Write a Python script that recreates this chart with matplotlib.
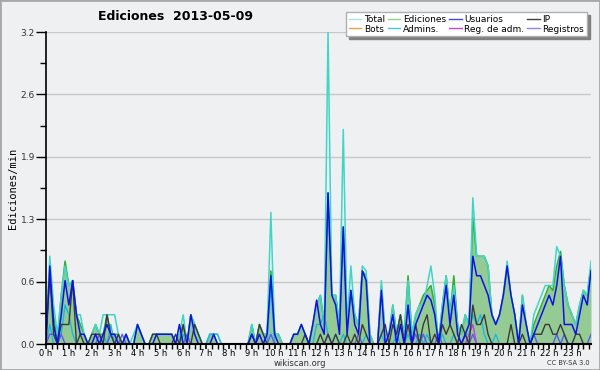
import numpy as np
import matplotlib.pyplot as plt
from matplotlib.lines import Line2D

# edits per minute, 10-minute buckets, 6 per hour
ediciones = [
    0.1, 0.8, 0.3, 0.0, 0.5, 0.85,
    0.6, 0.65, 0.3, 0.2, 0.1, 0.0,
    0.1, 0.2, 0.1, 0.1, 0.3, 0.1,
    0.1, 0.1, 0.0, 0.1, 0.0, 0.0,
    0.2, 0.1, 0.0, 0.0, 0.1, 0.1,
    0.1, 0.1, 0.1, 0.1, 0.0, 0.1,
    0.2, 0.0, 0.3, 0.2, 0.1, 0.0,
    0.0, 0.1, 0.1, 0.0, 0.0, 0.0,
    0.0, 0.0, 0.0, 0.0, 0.0, 0.0,
    0.2, 0.0, 0.2, 0.1, 0.1, 0.75,
    0.1, 0.1, 0.0, 0.0, 0.0, 0.1,
    0.1, 0.2, 0.1, 0.0, 0.2, 0.4,
    0.5, 0.2, 1.55, 0.5, 0.5, 0.2,
    1.2, 0.2, 0.55, 0.3, 0.2, 0.75,
    0.7, 0.1, 0.0, 0.0, 0.6, 0.1,
    0.1, 0.4, 0.1, 0.3, 0.1, 0.7,
    0.1, 0.3, 0.4, 0.5, 0.55, 0.6,
    0.4, 0.0, 0.4, 0.7, 0.3, 0.7,
    0.2, 0.1, 0.3, 0.2, 1.3, 0.9,
    0.9, 0.9, 0.8, 0.3, 0.2, 0.3,
    0.5, 0.8, 0.5, 0.3, 0.0, 0.5,
    0.2, 0.0, 0.2, 0.3, 0.4, 0.5,
    0.6, 0.55, 0.8, 0.95, 0.6, 0.4,
    0.3, 0.2, 0.4, 0.55, 0.5, 0.8,
]

total = [
    0.1, 0.9, 0.4, 0.1, 0.5, 0.8,
    0.6, 0.65, 0.3, 0.3, 0.1, 0.0,
    0.1, 0.2, 0.1, 0.3, 0.3, 0.3,
    0.3, 0.1, 0.0, 0.1, 0.0, 0.1,
    0.2, 0.1, 0.0, 0.0, 0.1, 0.1,
    0.1, 0.1, 0.1, 0.1, 0.0, 0.1,
    0.3, 0.0, 0.3, 0.2, 0.1, 0.0,
    0.0, 0.1, 0.1, 0.1, 0.0, 0.0,
    0.0, 0.0, 0.0, 0.0, 0.0, 0.0,
    0.2, 0.0, 0.2, 0.1, 0.1, 1.35,
    0.1, 0.1, 0.0, 0.0, 0.0, 0.1,
    0.1, 0.2, 0.1, 0.0, 0.2, 0.4,
    0.5, 0.2, 3.2, 0.5, 0.5, 0.2,
    2.2, 0.2, 0.8, 0.3, 0.2, 0.8,
    0.75, 0.1, 0.0, 0.0, 0.65, 0.1,
    0.1, 0.4, 0.1, 0.3, 0.1, 0.65,
    0.1, 0.3, 0.4, 0.4, 0.6, 0.8,
    0.5, 0.0, 0.4, 0.7, 0.3, 0.6,
    0.2, 0.1, 0.3, 0.2, 1.5, 0.9,
    0.9, 0.9, 0.8, 0.3, 0.2, 0.3,
    0.5, 0.85, 0.5, 0.3, 0.0, 0.5,
    0.2, 0.0, 0.3, 0.4, 0.5, 0.6,
    0.6, 0.6, 1.0, 0.9, 0.6, 0.4,
    0.3, 0.2, 0.4, 0.55, 0.5, 0.85,
]

usuarios = [
    0.0, 0.8, 0.2, 0.0, 0.3, 0.65,
    0.4, 0.65, 0.3, 0.1, 0.1, 0.0,
    0.0, 0.1, 0.0, 0.1, 0.2, 0.1,
    0.1, 0.0, 0.0, 0.1, 0.0, 0.0,
    0.2, 0.1, 0.0, 0.0, 0.0, 0.1,
    0.1, 0.1, 0.1, 0.1, 0.0, 0.2,
    0.0, 0.0, 0.3, 0.1, 0.0, 0.0,
    0.0, 0.0, 0.1, 0.0, 0.0, 0.0,
    0.0, 0.0, 0.0, 0.0, 0.0, 0.0,
    0.1, 0.0, 0.1, 0.0, 0.1, 0.7,
    0.1, 0.0, 0.0, 0.0, 0.0, 0.1,
    0.1, 0.2, 0.1, 0.0, 0.2, 0.45,
    0.2, 0.1, 1.55, 0.5, 0.4, 0.1,
    1.2, 0.1, 0.55, 0.2, 0.1, 0.75,
    0.65, 0.0, 0.0, 0.0, 0.55, 0.0,
    0.1, 0.3, 0.0, 0.2, 0.0, 0.4,
    0.0, 0.2, 0.3, 0.4, 0.5, 0.45,
    0.3, 0.0, 0.3, 0.6, 0.2, 0.5,
    0.1, 0.0, 0.1, 0.2, 0.9, 0.7,
    0.7, 0.6, 0.5, 0.3, 0.2, 0.3,
    0.5, 0.8, 0.5, 0.3, 0.0, 0.4,
    0.2, 0.0, 0.1, 0.2, 0.3, 0.4,
    0.5, 0.4, 0.6, 0.9, 0.2, 0.2,
    0.2, 0.1, 0.3, 0.5, 0.4, 0.75,
]

ip = [
    0.1, 0.7, 0.1, 0.0, 0.2, 0.2,
    0.2, 0.65, 0.0, 0.1, 0.0, 0.0,
    0.1, 0.1, 0.1, 0.0, 0.3, 0.1,
    0.0, 0.1, 0.0, 0.0, 0.0, 0.0,
    0.0, 0.0, 0.0, 0.0, 0.1, 0.1,
    0.0, 0.0, 0.0, 0.0, 0.1, 0.0,
    0.2, 0.0, 0.0, 0.2, 0.1, 0.0,
    0.0, 0.0, 0.0, 0.0, 0.0, 0.0,
    0.0, 0.0, 0.0, 0.0, 0.0, 0.0,
    0.1, 0.0, 0.2, 0.1, 0.0, 0.0,
    0.0, 0.0, 0.0, 0.0, 0.0, 0.0,
    0.0, 0.0, 0.1, 0.0, 0.0, 0.0,
    0.1, 0.0, 0.1, 0.0, 0.1, 0.0,
    0.0, 0.1, 0.0, 0.1, 0.0, 0.2,
    0.1, 0.0, 0.0, 0.0, 0.1, 0.2,
    0.0, 0.2, 0.1, 0.3, 0.0, 0.2,
    0.0, 0.2, 0.0, 0.2, 0.3, 0.0,
    0.1, 0.0, 0.2, 0.1, 0.2, 0.1,
    0.0, 0.2, 0.1, 0.0, 0.4, 0.2,
    0.2, 0.3, 0.1, 0.0, 0.0, 0.0,
    0.0, 0.0, 0.2, 0.0, 0.0, 0.1,
    0.0, 0.0, 0.1, 0.1, 0.1, 0.2,
    0.2, 0.1, 0.1, 0.2, 0.1, 0.0,
    0.0, 0.1, 0.1, 0.0, 0.0, 0.0,
]

admins = [
    0.0, 0.2, 0.0, 0.0, 0.1, 0.4,
    0.3, 0.1, 0.0, 0.0, 0.0, 0.0,
    0.0, 0.0, 0.0, 0.1, 0.0, 0.2,
    0.0, 0.0, 0.0, 0.0, 0.0, 0.0,
    0.0, 0.0, 0.0, 0.0, 0.0, 0.0,
    0.0, 0.0, 0.0, 0.0, 0.0, 0.0,
    0.1, 0.0, 0.0, 0.0, 0.0, 0.0,
    0.0, 0.1, 0.1, 0.1, 0.0, 0.0,
    0.0, 0.0, 0.0, 0.0, 0.0, 0.0,
    0.0, 0.0, 0.0, 0.0, 0.0, 0.6,
    0.0, 0.0, 0.0, 0.0, 0.0, 0.0,
    0.0, 0.0, 0.0, 0.0, 0.0, 0.2,
    0.2, 0.3, 0.1, 0.0, 0.1, 0.0,
    0.1, 0.0, 0.0, 0.0, 0.0, 0.0,
    0.1, 0.0, 0.0, 0.0, 0.1, 0.0,
    0.0, 0.0, 0.1, 0.0, 0.0, 0.1,
    0.0, 0.0, 0.1, 0.0, 0.1, 0.0,
    0.0, 0.0, 0.1, 0.0, 0.0, 0.1,
    0.0, 0.0, 0.1, 0.1, 0.3, 0.2,
    0.3, 0.1, 0.0, 0.0, 0.1, 0.0,
    0.0, 0.0, 0.0, 0.0, 0.0, 0.0,
    0.0, 0.0, 0.0, 0.0, 0.0, 0.0,
    0.0, 0.0, 0.0, 0.0, 0.0, 0.0,
    0.0, 0.0, 0.0, 0.0, 0.0, 0.0,
]

registros = [
    0.0, 0.1, 0.1, 0.0, 0.1, 0.0,
    0.0, 0.0, 0.0, 0.0, 0.0, 0.0,
    0.0, 0.0, 0.1, 0.0, 0.0, 0.1,
    0.0, 0.0, 0.1, 0.0, 0.0, 0.0,
    0.0, 0.0, 0.0, 0.0, 0.0, 0.0,
    0.0, 0.0, 0.0, 0.0, 0.0, 0.0,
    0.0, 0.1, 0.0, 0.0, 0.0, 0.0,
    0.0, 0.0, 0.0, 0.0, 0.0, 0.0,
    0.0, 0.0, 0.0, 0.0, 0.0, 0.0,
    0.0, 0.0, 0.0, 0.0, 0.0, 0.1,
    0.0, 0.0, 0.0, 0.0, 0.0, 0.0,
    0.0, 0.0, 0.0, 0.0, 0.0, 0.0,
    0.0, 0.0, 0.1, 0.0, 0.0, 0.0,
    0.0, 0.0, 0.0, 0.0, 0.1, 0.0,
    0.0, 0.0, 0.0, 0.0, 0.0, 0.0,
    0.0, 0.0, 0.0, 0.0, 0.0, 0.0,
    0.0, 0.1, 0.0, 0.1, 0.0, 0.0,
    0.0, 0.1, 0.0, 0.0, 0.0, 0.0,
    0.0, 0.0, 0.1, 0.0, 0.1, 0.0,
    0.0, 0.0, 0.0, 0.0, 0.0, 0.0,
    0.0, 0.0, 0.0, 0.0, 0.0, 0.0,
    0.0, 0.0, 0.1, 0.0, 0.0, 0.0,
    0.0, 0.0, 0.1, 0.0, 0.1, 0.0,
    0.0, 0.0, 0.0, 0.0, 0.0, 0.1,
]

reg_adm = [0.0] * 144
reg_adm[111] = 0.1
reg_adm[112] = 0.2
bots = [0.0] * 144

hours = [f"{h} h" for h in range(24)]
y_ticks = [0.0, 0.64, 1.28, 1.92, 2.56, 3.2]

x = np.arange(144) / 6.0

bg = "#eff0f1"
fig = plt.figure(figsize=(6, 3.7), dpi=100, facecolor=bg)
fig.patches.append(plt.Rectangle((0, 0), 1, 1, transform=fig.transFigure,
                                 fill=False, edgecolor="#a8a8a8", linewidth=2))
ax = fig.add_axes([46 / 600, 26 / 370, 545 / 600, 312 / 370])
ax.set_facecolor(bg)

ax.fill_between(x, ediciones, color="#8fc98f", alpha=0.95, linewidth=0)
ax.plot(x, bots, color="#f0a030", linewidth=1)
ax.plot(x, ediciones, color="#2fae2f", linewidth=1.1)
ax.plot(x, total, color="#3fd6c8", linewidth=1.1)
ax.plot(x, admins, color="#1cb8e0", linewidth=1)
ax.plot(x, registros, color="#5a5af0", linewidth=1)
ax.plot(x, reg_adm, color="#c040e0", linewidth=1)
ax.plot(x, ip, color="#3a3a3a", linewidth=1)
ax.plot(x, usuarios, color="#1010e6", linewidth=1.1)

ax.set_xlim(0, 143 / 6)
ax.set_ylim(0, 3.2)
ax.set_yticks(y_ticks)
ax.set_yticklabels([f"{v:.1f}" for v in y_ticks])
ax.set_yticks(np.arange(0.32, 3.2, 0.64), minor=True)
ax.set_xticks(range(24))
ax.set_xticklabels(hours)
ax.set_xticks(np.arange(0, 143 / 6, 0.25), minor=True)
ax.grid(axis="y", color="#c8c8c8", linewidth=1)
ax.set_axisbelow(True)

for s in ["top", "right"]:
    ax.spines[s].set_visible(False)
ax.spines["left"].set_linewidth(1.2)
ax.spines["bottom"].set_linewidth(1.5)
ax.tick_params(axis="y", which="major", length=7, width=1, labelsize=6.5, colors="black",
               labelcolor="#333333", pad=1)
ax.tick_params(axis="y", which="minor", length=4, width=1)
ax.tick_params(axis="x", which="major", length=3.5, width=1.2, labelsize=6, pad=0.3)
ax.tick_params(axis="x", which="minor", length=3.5, width=1)

ax.set_ylabel("Ediciones/min", family="DejaVu Sans Mono", fontsize=7.5, labelpad=2)
fig.text(175 / 600, 1 - 17 / 370, "Ediciones  2013-05-09", fontsize=9, fontweight="bold",
         ha="center", va="center")
fig.text(300 / 600, 1 - 363 / 370, "wikiscan.org", fontsize=6, ha="center", va="center",
         color="#333333")
fig.text(590 / 600, 1 - 363 / 370, "CC BY-SA 3.0", fontsize=4.8, ha="right", va="center",
         color="#333333")

names = ["Total", "Bots", "Ediciones", "Admins.", "Usuarios", "Reg. de adm.", "IP", "Registros"]
colors = ["#a8e4e4", "#f0a040", "#90d490", "#48c8e0", "#4848e0", "#c848e0", "#404040", "#8888f0"]
handles = [Line2D([0], [0], color=c, linewidth=1) for c in colors]
leg = fig.legend(handles, names, ncol=4, loc="upper right",
                 bbox_to_anchor=(587 / 600, 1 - 12 / 370), fontsize=6.5,
                 frameon=True, fancybox=False, shadow={"color": "#808080", "alpha": 1},
                 handlelength=1.4, handletextpad=0.3, columnspacing=0.3,
                 labelspacing=0.1, borderpad=0.3, borderaxespad=0)
leg.get_frame().set_edgecolor("#b0b0b0")
leg.get_frame().set_facecolor("white")

fig.savefig("out.png", dpi=100, facecolor=bg)
